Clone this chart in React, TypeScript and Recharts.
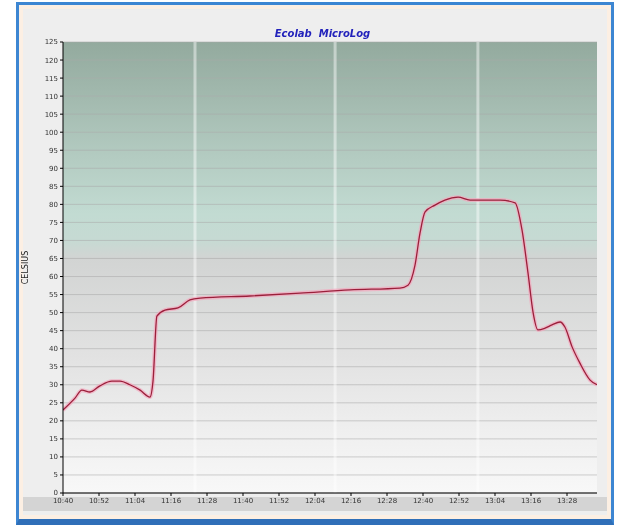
import React from "react";
import {
    LineChart,
    Line,
    XAxis,
    YAxis,
    CartesianGrid,
    ReferenceLine,
} from "recharts";

// minutes since start of log
const minutes = [
    0, 4, 6.3, 9, 12.3, 16.3, 19, 22.3, 25.7, 29, 30, 31.3, 34, 38.3, 42.3,
    45.7, 62.3, 79, 95.7, 112.3, 115, 117.3, 119, 120.7, 124, 127.3, 131.7,
    135.7, 145.7, 150.7, 153, 155, 156.7, 158.3, 160.7, 163, 165.7, 167.3,
    169.7, 172.3, 175.7, 178,
];

// temperature in celsius
const celsius = [
    23, 26.3, 28.5, 28, 29.7, 31, 31, 30, 28.5, 26.6, 31, 49, 50.7, 51.3, 53.5,
    54, 54.6, 55.4, 56.3, 56.8, 57.6, 63, 72, 77.9, 79.8, 81.2, 82, 81.2, 81.2,
    80.4, 72.9, 61, 50, 45.2, 45.7, 46.6, 47.4, 46, 40.5, 36, 31.3, 30,
];

const yTicks = [
    0, 5, 10, 15, 20, 25, 30, 35, 40, 45, 50, 55, 60, 65, 70, 75, 80, 85, 90,
    95, 100, 105, 110, 115, 120, 125,
];

const xTicks = [0, 12, 24, 36, 48, 60, 72, 84, 96, 108, 120, 132, 144, 156, 168];
const xTickLabels = [
    "10:40", "10:52", "11:04", "11:16", "11:28", "11:40", "11:52", "12:04",
    "12:16", "12:28", "12:40", "12:52", "13:04", "13:16", "13:28",
];

// faint vertical separators
const dayMarks = [44, 90.7, 138.3];

const data = minutes.map((m, i) => ({ t: m, c: celsius[i] }));

export default function App() {
    return (
        <div
            style={{
                position: "fixed",
                left: 0,
                top: 0,
                width: 625,
                height: 528,
                background: "#ffffff",
                fontFamily: "'DejaVu Sans', sans-serif",
            }}
        >
            {/* window frame */}
            <div
                style={{
                    position: "absolute",
                    left: 16,
                    top: 2,
                    width: 592,
                    height: 514,
                    border: "3px solid #3d86d2",
                    borderBottom: "6px solid #2f6fb8",
                    background: "#fcefe3",
                }}
            >
                <div
                    style={{
                        position: "absolute",
                        left: 4,
                        top: 4,
                        right: 4,
                        bottom: 4,
                        background: "#eeeeee",
                    }}
                />
                <div
                    style={{
                        position: "absolute",
                        left: 4,
                        right: 4,
                        top: 492,
                        height: 14,
                        background: "#d4d4d4",
                    }}
                />
            </div>
            <div
                style={{
                    position: "absolute",
                    left: 0,
                    width: 625,
                    top: 28,
                    textAlign: "center",
                    color: "#2222bb",
                    fontSize: 10,
                    fontWeight: "bold",
                    fontStyle: "italic",
                    paddingLeft: 10,
                }}
            >
                Ecolab&nbsp;&nbsp;MicroLog
            </div>
            <div style={{ position: "absolute", left: 0, top: 0 }}>
                <LineChart
                    width={625}
                    height={528}
                    data={data}
                    margin={{ top: 42, right: 28, bottom: 15, left: 13 }}
                >
                    <defs>
                        <linearGradient id="bg" x1="0" y1="0" x2="0" y2="1">
                            <stop offset="0%" stopColor="#93aa9e" />
                            <stop offset="12%" stopColor="#a2b9ae" />
                            <stop offset="26%" stopColor="#b4ccc2" />
                            <stop offset="38%" stopColor="#c2dbd2" />
                            <stop offset="44%" stopColor="#c6dad3" />
                            <stop offset="48%" stopColor="#d2d4d3" />
                            <stop offset="70%" stopColor="#e2e2e2" />
                            <stop offset="86%" stopColor="#efefef" />
                            <stop offset="100%" stopColor="#f8f8f8" />
                        </linearGradient>
                    </defs>
                    <CartesianGrid
                        vertical={false}
                        stroke="#a9a9a9"
                        strokeOpacity={0.55}
                        fill="url(#bg)"
                        fillOpacity={1}
                    />
                    {dayMarks.map((d) => (
                        <ReferenceLine
                            key={d}
                            x={d}
                            stroke="#ffffff"
                            strokeOpacity={0.45}
                            strokeWidth={3}
                        />
                    ))}
                    <XAxis
                        dataKey="t"
                        type="number"
                        domain={[0, 178]}
                        ticks={xTicks}
                        tickFormatter={(v: number) => xTickLabels[xTicks.indexOf(v)] ?? ""}
                        interval={0}
                        height={20}
                        stroke="#000000"
                        tick={{ fontSize: 7, fill: "#333333" }}
                        tickSize={3}
                        allowDataOverflow
                    />
                    <YAxis
                        domain={[0, 125]}
                        ticks={yTicks}
                        interval={0}
                        width={50}
                        stroke="#000000"
                        tick={{ fontSize: 7, fill: "#333333" }}
                        tickSize={3}
                        label={{
                            value: "CELSIUS",
                            angle: -90,
                            position: "insideLeft",
                            offset: 12,
                            style: { fontSize: 8, fill: "#222222", textAnchor: "middle" },
                        }}
                    />
                    <Line
                        dataKey="c"
                        type="monotone"
                        stroke="#f4a6bd"
                        strokeWidth={4}
                        strokeOpacity={0.7}
                        dot={false}
                        isAnimationActive={false}
                    />
                    <Line
                        dataKey="c"
                        type="monotone"
                        stroke="#9b1f3a"
                        strokeWidth={1.3}
                        dot={false}
                        isAnimationActive={false}
                    />
                </LineChart>
            </div>
        </div>
    );
}
